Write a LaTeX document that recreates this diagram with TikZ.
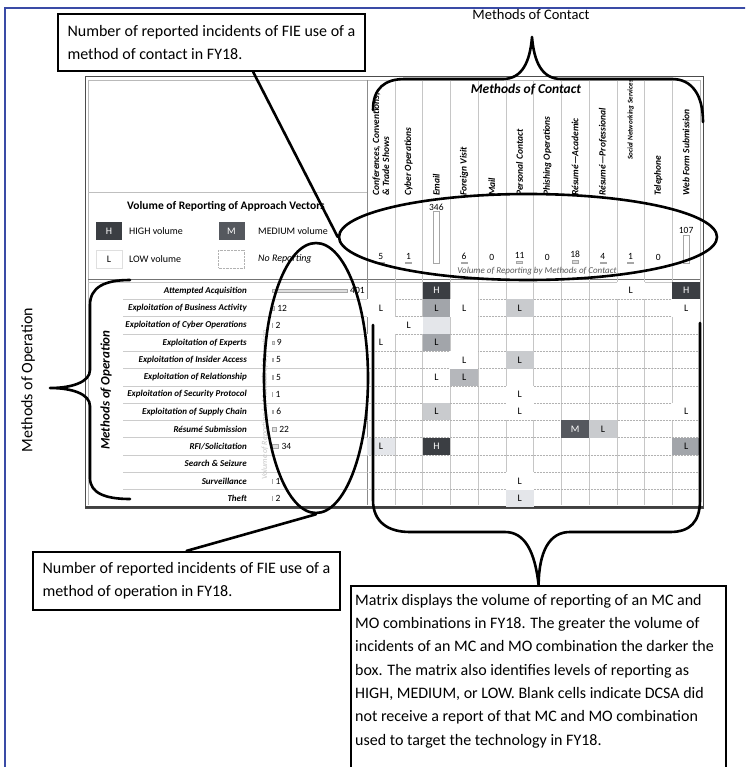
\documentclass[tikz,border=0pt]{standalone}
\usepackage{fontspec}
\setmainfont{Carlito}
\usetikzlibrary{shapes.geometric,calc}
\definecolor{hcell}{HTML}{3B3E43}
\definecolor{mcell}{HTML}{55585E}
\definecolor{lmid}{HTML}{A2A5AA}
\definecolor{llight}{HTML}{C9CBCE}
\definecolor{lpale}{HTML}{E4E6EA}
\definecolor{framecol}{HTML}{3A4BA6}
\tikzset{
  callout/.style={draw=black, line width=2.2pt, inner sep=0pt, align=left, font=\fontsize{16}{23}\selectfont},
  brace/.style={line width=2.6pt, line cap=round, line join=round},
  ring/.style={draw, ellipse, line width=2.6pt, inner sep=0pt},
  collab/.style={rotate=90, anchor=west, font=\fontsize{9.5}{10}\selectfont\bfseries\itshape, inner sep=0pt, align=left},
  rowlab/.style={anchor=east, font=\fontsize{9}{9}\selectfont\bfseries\itshape, inner sep=0pt},
  cellbox/.style={minimum width=27.75, minimum height=17.3, inner sep=0pt, font=\fontsize{10}{10}\selectfont},
  numtxt/.style={font=\fontsize{9.5}{9.5}\selectfont, inner sep=0.5pt},
  gridv/.style={gray!45, line width=0.5pt},
  gridh/.style={gray!60, line width=0.5pt, densely dotted},
  gridl/.style={gray!40, line width=0.5pt},
  barbox/.style={draw=gray!70, fill=white, line width=0.5pt, inner sep=0pt},
  legbox/.style={minimum width=26, minimum height=18, inner sep=0pt, font=\fontsize{10}{10}\selectfont},
  legtxt/.style={anchor=west, inner sep=0pt, font=\fontsize{10}{10}\selectfont},
  biglab/.style={font=\fontsize{14.5}{16}\selectfont, inner sep=0pt}
}
\begin{document}
\begin{tikzpicture}[x=1pt,y=-1pt]
\useasboundingbox (0,0) rectangle (745,767);
\clip (0,0) rectangle (745,767);
% blue frame
\draw[framecol, line width=1.1pt] (5,800) -- (5,8) -- (760,8);

% ---------------- table frame ----------------
\draw[gray!60!black, line width=1pt] (85,77) -- (703,77) -- (703,508) -- (85,508) -- cycle;
\draw[gray!55, line width=0.6pt] (88,80) -- (700,80) -- (700,505);
\draw[gray!55, line width=0.6pt] (88,80) -- (88,505);
\draw[black!75, line width=2.5pt] (85,507) -- (703,507);
\draw[gray!50, line width=0.6pt] (88,192) -- (367,192);
\draw[black!55, line width=1pt] (88,279) -- (700,279);
\draw[gray!45, line width=0.6pt] (88,282) -- (700,282);
\draw[black!45, line width=0.8pt] (367,80) -- (367,505);

% column lines
\foreach \i in {1,...,11}
  \draw[gridv] ({367+\i*27.75},80) -- ({367+\i*27.75},505);
% row lines
\foreach \j in {1,...,12}{
  \draw[gridl] (123,{282+\j*17.3}) -- (367,{282+\j*17.3});
  \draw[gridh] (367,{282+\j*17.3}) -- (700,{282+\j*17.3});
}

% ---------------- matrix cells ----------------
\foreach \c/\r/\f/\t/\tc in {
  3/1/hcell/H/white, 10/1/white/L/black, 12/1/hcell/H/white,
  1/2/white/L/black, 3/2/lmid/L/black, 4/2/white/L/black, 6/2/llight/L/black, 12/2/white/L/black,
  2/3/white/L/black, 3/3/lpale//black,
  1/4/white/L/black, 3/4/lmid/L/black,
  4/5/white/L/black, 6/5/llight/L/black,
  3/6/white/L/black, 4/6/lmid!80/L/black,
  6/7/white/L/black,
  3/8/llight/L/black, 6/8/white/L/black, 12/8/white/L/black,
  8/9/mcell/M/white, 9/9/llight/L/black,
  1/10/lpale/L/black, 3/10/hcell/H/white, 12/10/lmid/L/black,
  6/12/white/L/black,
  6/13/lpale/L/black}
  \node[cellbox, fill=\f, text=\tc] (m\r-\c) at ({367+(\c-0.5)*27.75},{282+(\r-0.5)*17.3}) {\t};

% ---------------- column headers ----------------
\foreach \lab [count=\c] in {{Conferences, Conventions,\\ \& Trade Shows}, Cyber Operations, Email, Foreign Visit, Mail, Personal Contact, Phishing Operations, Résumé—Academic, Résumé—Professional, Social Networking Services, Telephone, Web Form Submission}{
  \ifnum\c=10
    \node[collab, font=\fontsize{7.2}{8}\selectfont\bfseries\itshape] (h\c) at ({367+(\c-0.5)*27.75},160) {\lab};
  \else
    \node[collab] (h\c) at ({367+(\c-0.5)*27.75},196) {\lab};
  \fi
}
\node[font=\fontsize{13.5}{14}\selectfont\bfseries\itshape, inner sep=0pt] (mochead) at (526,90) {Methods of Contact};

% counts by method of contact
\foreach \c/\n/\h in {1/5/0.8, 2/1/0.4, 4/6/0.9, 5/0/0, 6/11/1.6, 7/0/0, 8/18/2.6, 9/4/0.6, 10/1/0.4, 11/0/0}{
  \ifdim\h pt>0pt
    \draw[gray!70, fill=gray!30, line width=0.4pt] ({367+(\c-0.5)*27.75-3},{263-\h}) rectangle ({367+(\c-0.5)*27.75+3},263);
  \fi
  \node[numtxt, anchor=south] (n\c) at ({367+(\c-0.5)*27.75},{261-\h}) {\n};
}
\node[barbox, minimum width=6, minimum height=51, anchor=south] (bar3) at ({367+2.5*27.75},263) {};
\node[numtxt, anchor=south] (n3) at (bar3.north) {346};
\node[barbox, minimum width=6, minimum height=28, anchor=south] (bar12) at ({367+11.5*27.75},263) {};
\node[numtxt, anchor=south] (n12) at (bar12.north) {107};
\node[font=\fontsize{9}{9}\selectfont\itshape, text=gray!70!black, inner sep=0pt] (vmc) at (537,271) {Volume of Reporting by Methods of Contact};

% ---------------- legend ----------------
\node[anchor=west, inner sep=0pt, font=\fontsize{11.5}{12}\selectfont\bfseries] (legt) at (127,206) {Volume of Reporting of Approach Vectors};
\node[legbox, fill=hcell, text=white] (legH) at (109,231) {H};
\node[legtxt] at (129,231) {HIGH volume};
\node[legbox, fill=mcell, text=white] (legM) at (231.5,231) {M};
\node[legtxt] at (258,231) {MEDIUM volume};
\node[legbox, draw=gray!25] (legL) at (109,259) {L};
\node[legtxt] at (129,259) {LOW volume};
\node[legbox, draw=gray!60, densely dotted] (legN) at (231.5,259) {};
\node[legtxt, font=\fontsize{10}{10}\selectfont\itshape] at (258,259) {No Reporting};

% ---------------- row labels & counts ----------------
\foreach \lab [count=\r] in {Attempted Acquisition, Exploitation of Business Activity, Exploitation of Cyber Operations, Exploitation of Experts, Exploitation of Insider Access, Exploitation of Relationship, Exploitation of Security Protocol, Exploitation of Supply Chain, Résumé Submission, RFI/Solicitation, Search \& Seizure, Surveillance, Theft}
  \node[rowlab] (r\r) at (247,{282+(\r-0.5)*17.3}) {\lab};

\node[font=\fontsize{8}{8}\selectfont\itshape, text=gray!45, rotate=90, inner sep=0pt] (vmo) at (265,405) {Volume of Reporting by Methods of Operation};

\foreach \r/\n/\w in {1/401/75, 2/12/2.2, 3/2/0.5, 4/9/1.7, 5/5/1, 6/5/1, 7/1/0.3, 8/6/1.1, 9/22/4.1, 10/34/6.4, 12/1/0.3, 13/2/0.5}{
  \draw[gray!70, fill=gray!25, line width=0.4pt] (272,{282+(\r-0.5)*17.3-1.8}) rectangle ({272+\w},{282+(\r-0.5)*17.3+1.8});
  \node[numtxt, anchor=west] (k\r) at ({274.5+\w},{282+(\r-0.5)*17.3}) {\n};
}

\node[font=\fontsize{13}{14}\selectfont\bfseries\itshape, rotate=90, inner sep=0pt] (moohead) at (106,390) {Methods of Operation};

% ---------------- annotations ----------------
\node[biglab] (moc) at (531,15) {Methods of Contact};
\coordinate (toptip) at (532,37);
\draw[brace] (373,110) .. controls (373,88) and (385,79) .. (405,79) -- (503,79)
  .. controls (522,79) and (530,62) .. (toptip)
  .. controls (534,62) and (542,79) .. (561,79) -- (672,79)
  .. controls (692,79) and (703,95) .. (703,122);

\node[biglab, font=\fontsize{16}{18}\selectfont, rotate=90] (moo) at (28,380) {Methods of Operation};
\coordinate (lefttip) at (50,388);
\draw[brace] (130,280) .. controls (105,280) and (90,287) .. (90,305) -- (90,370)
  .. controls (90,382) and (72,388) .. (lefttip)
  .. controls (72,388) and (90,394) .. (90,406) -- (90,478)
  .. controls (90,493) and (105,499) .. (130,499);

\node[ring, minimum width=378, minimum height=86] (ellC) at (528,237) {};
\node[ring, minimum width=104, minimum height=270] (ellO) at (316,378) {};

\node[callout, minimum width=307, minimum height=57] (cb1) at (211.5,42.5)
  {Number of reported incidents of FIE use of a\\method of contact in FY18.};
\node[callout, minimum width=307, minimum height=58] (cb2) at (186.5,581)
  {Number of reported incidents of FIE use of a\\method of operation in FY18.};
\node[draw=black, line width=2.2pt, minimum width=375, minimum height=210, anchor=north west, inner sep=0pt] (cb3) at (350,585) {};
\node[anchor=north west, inner sep=0pt, align=left, font=\fontsize{16}{23.3}\selectfont] (cb3t) at (355,594)
  {Matrix displays the volume of reporting of an MC and\\
   MO combinations in FY18. The greater the volume of\\
   incidents of an MC and MO combination the darker the\\
   box. The matrix also identifies levels of reporting as\\
   HIGH, MEDIUM, or LOW. Blank cells indicate DCSA did\\
   not receive a report of that MC and MO combination\\
   used to target the technology in FY18.};

\draw[brace] ($(cb1.south west)!0.635!(cb1.south east)$) -- (ellC.west);
\draw[brace] (ellO.south) -- (cb2.north);
\draw[brace] (373,325) -- (373,500) .. controls (373,522) and (388,532) .. (410,532) -- (505,532)
  .. controls (525,532) and (535,552) .. (cb3.north)
  .. controls (539,552) and (549,532) .. (570,532) -- (670,532)
  .. controls (690,532) and (700,522) .. (700,500) -- (700,323);
\end{tikzpicture}
\end{document}
